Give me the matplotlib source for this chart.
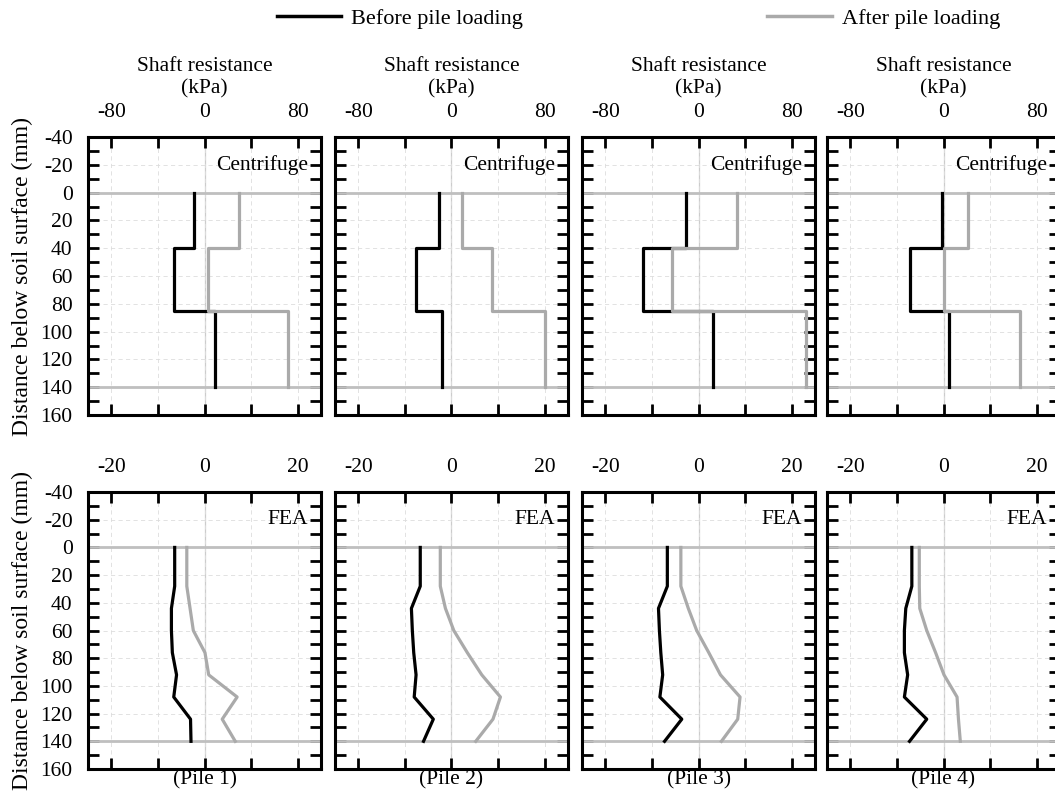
import numpy as np
import matplotlib
matplotlib.use('Agg')
import matplotlib.pyplot as plt
from matplotlib.lines import Line2D
from matplotlib.ticker import MultipleLocator

plt.rcParams['font.family'] = ['Liberation Serif', 'DejaVu Serif']
plt.rcParams['axes.unicode_minus'] = False

# Centrifuge: constant shaft resistance over three pile segments (kPa)
cf_bounds = [0, 40, 85, 140]
cf_before_1 = [-8.6, -26.2, 9.2]
cf_after_1 = [30.0, 2.6, 71.8]
cf_before_2 = [-10.5, -30.8, -8.1]
cf_after_2 = [8.7, 34.6, 80.5]
cf_before_3 = [-11.0, -48.0, 12.5]
cf_after_3 = [33.4, -22.4, 92.4]
cf_before_4 = [-1.5, -28.5, 4.4]
cf_after_4 = [21.0, 0.6, 65.4]

# FEA: shaft resistance profiles along the pile (kPa)
fea_depth = [0, 28, 44, 60, 76, 92, 108, 124, 140]
fea_before_1 = [-6.4, -6.4, -7.1, -7.1, -6.9, -6.0, -6.6, -3.0, -2.9]
fea_after_1 = [-3.8, -3.8, -3.1, -2.4, 0.1, 0.9, 7.0, 3.8, 6.6]
fea_before_2 = [-6.7, -6.7, -8.6, -8.4, -8.1, -7.6, -8.0, -3.9, -6.0]
fea_after_2 = [-2.4, -2.4, -1.3, 0.5, 3.4, 6.5, 10.5, 8.9, 5.2]
fea_before_3 = [-6.7, -6.7, -8.6, -8.4, -8.1, -7.7, -8.3, -3.6, -7.3]
fea_after_3 = [-3.8, -3.8, -2.2, -0.4, 2.2, 4.7, 8.9, 8.4, 4.9]
fea_before_4 = [-6.8, -6.8, -8.1, -8.4, -8.4, -7.7, -8.4, -3.6, -7.3]
fea_after_4 = [-5.2, -5.2, -5.1, -3.6, -1.7, 0.1, 2.9, 3.2, 3.6]

pile_labels = ['(Pile 1)', '(Pile 2)', '(Pile 3)', '(Pile 4)']
cf_xticks = [-80, -40, 0, 40, 80]
cf_xticklabels = ['-80', '', '0', '', '80']
fea_xticks = [-20, -10, 0, 10, 20]
fea_xticklabels = ['-20', '', '0', '', '20']
yticks = [-40, -20, 0, 20, 40, 60, 80, 100, 120, 140, 160]

cf_before = [cf_before_1, cf_before_2, cf_before_3, cf_before_4]
cf_after = [cf_after_1, cf_after_2, cf_after_3, cf_after_4]
fea_before = [fea_before_1, fea_before_2, fea_before_3, fea_before_4]
fea_after = [fea_after_1, fea_after_2, fea_after_3, fea_after_4]

c_before = 'black'
c_after = '#aaaaaa'
c_ref = '#bfbfbf'
fs = 15.5


def step_profile(bounds, vals):
    d = np.repeat(bounds, 2)[1:-1]
    v = np.repeat(vals, 2)
    return v, d


def setup_axis(ax, xlim, xticks, xticklabels, first_col):
    ax.set_xlim(*xlim)
    ax.set_ylim(160, -40)
    ax.set_xticks(xticks)
    ax.set_xticklabels(xticklabels)
    ax.set_yticks(yticks)
    ax.yaxis.set_minor_locator(MultipleLocator(10))
    ax.xaxis.tick_top()
    ax.tick_params(axis='x', which='both', direction='in', top=True, bottom=True,
                   length=8, width=2, labelsize=fs, pad=11)
    ax.tick_params(axis='y', which='both', direction='in', left=True, right=True,
                   length=8, width=2, labelsize=fs, pad=11)
    if not first_col:
        ax.tick_params(axis='y', labelleft=False)
    for sp in ax.spines.values():
        sp.set_linewidth(2.2)
    ax.grid(True, which='major', ls=(0, (5, 4)), lw=0.6, color='#dddddd')
    ax.axvline(0, color='#cccccc', lw=0.9, zorder=1)
    ax.axhline(0, color=c_ref, lw=2, zorder=2)
    ax.axhline(140, color=c_ref, lw=2, zorder=2)


fig = plt.figure(figsize=(10.55, 8.02), dpi=100)

lefts = [0.0834, 0.3175, 0.5517, 0.7839]
width = 0.2209

for i in range(4):
    # centrifuge row
    ax = fig.add_axes([lefts[i], 0.4825, width, 0.3466])
    setup_axis(ax, (-100, 100), cf_xticks, cf_xticklabels, i == 0)
    v, d = step_profile(cf_bounds, cf_before[i])
    ax.plot(v, d, color=c_before, lw=2.3, zorder=3)
    v, d = step_profile(cf_bounds, cf_after[i])
    ax.plot(v, d, color=c_after, lw=2.3, zorder=4)
    ax.set_xlabel('Shaft resistance\n(kPa)', fontsize=fs, labelpad=7, linespacing=1.2)
    ax.xaxis.set_label_position('top')
    ax.text(0.945, 0.9, 'Centrifuge', transform=ax.transAxes, ha='right', va='center',
            fontsize=fs, zorder=6)
    if i == 0:
        ax.set_ylabel('Distance below soil surface (mm)', fontsize=17, labelpad=5)

    # FEA row
    ax = fig.add_axes([lefts[i], 0.0411, width, 0.3454])
    setup_axis(ax, (-25, 25), fea_xticks, fea_xticklabels, i == 0)
    ax.plot(fea_before[i], fea_depth, color=c_before, lw=2.3, zorder=3)
    ax.plot(fea_after[i], fea_depth, color=c_after, lw=2.3, zorder=4)
    ax.set_xlabel(pile_labels[i], fontsize=fs, labelpad=1)
    ax.xaxis.set_label_position('bottom')
    ax.text(0.945, 0.9, 'FEA', transform=ax.transAxes, ha='right', va='center',
            fontsize=fs, zorder=6)
    if i == 0:
        ax.set_ylabel('Distance below soil surface (mm)', fontsize=17, labelpad=5)

handles = [Line2D([], [], color=c_before, lw=2.5),
           Line2D([], [], color=c_after, lw=2.5)]
fig.legend(handles, ['Before pile loading', 'After pile loading'], loc='center',
           bbox_to_anchor=(0.605, 0.977), ncol=2, frameon=False, fontsize=16,
           handlelength=2.9, handletextpad=0.45, columnspacing=11.0)

fig.savefig('out.png', dpi=100)
